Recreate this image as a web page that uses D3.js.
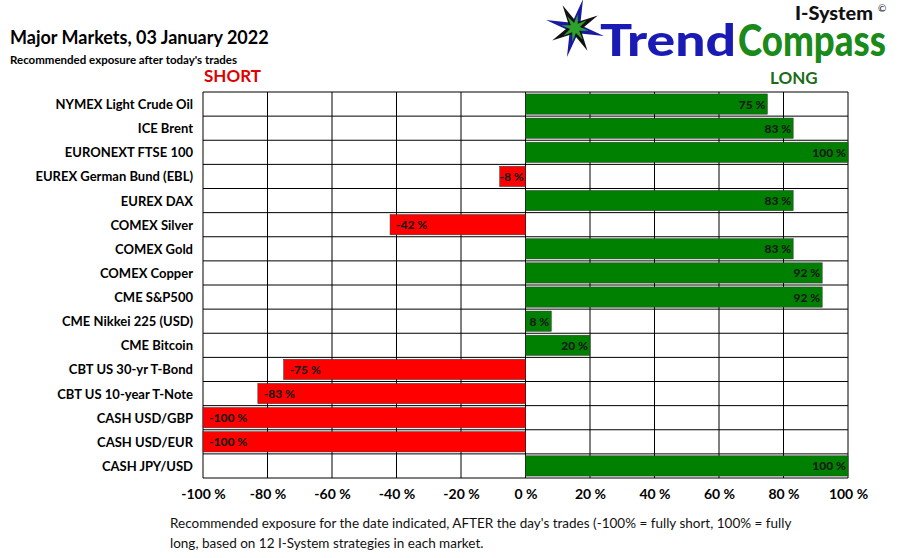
<!DOCTYPE html>
<html><head><meta charset="utf-8">
<script src="https://cdn.jsdelivr.net/npm/d3@7"></script>
<style>body{margin:0;background:#fff}text{font-family:Lato,"Open Sans",sans-serif}</style>
</head><body><svg id="c" width="900" height="558"></svg>
<script>
const categories=["NYMEX Light Crude Oil","ICE Brent","EURONEXT FTSE 100","EUREX German Bund (EBL)","EUREX DAX","COMEX Silver","COMEX Gold","COMEX Copper","CME S&P500","CME Nikkei 225 (USD)","CME Bitcoin","CBT US 30-yr T-Bond","CBT US 10-year T-Note","CASH USD/GBP","CASH USD/EUR","CASH JPY/USD"];
const values=[75,83,100,-8,83,-42,83,92,92,8,20,-75,-83,-100,-100,100];
const tickValues=[-100,-80,-60,-40,-20,0,20,40,60,80,100];
const svg=d3.select("#c");
const x=d3.scaleLinear().domain([-100,100]).range([203,848]);
const y=d3.scaleBand().domain(categories).range([92,478]).paddingInner(0.16).paddingOuter(0.08);
const g=svg.append("g");
tickValues.forEach(t=>g.append("line").attr("x1",x(t)).attr("x2",x(t)).attr("y1",92).attr("y2",478).attr("stroke","#000").attr("stroke-width",1));
d3.range(categories.length+1).forEach(i=>{const yy=92+i*(386/categories.length);g.append("line").attr("x1",203).attr("x2",848).attr("y1",yy).attr("y2",yy).attr("stroke","#000").attr("stroke-width",1);});
svg.selectAll("rect.b").data(values).join("rect").attr("class","b")
 .attr("x",d=>x(Math.min(0,d))).attr("width",d=>Math.abs(x(d)-x(0)))
 .attr("y",(d,i)=>y(categories[i])).attr("height",y.bandwidth())
 .attr("fill",d=>d<0?"#ff0000":"#008000").attr("stroke","#333").attr("stroke-width",0.5);
svg.selectAll("text.v").data(values).join("text").attr("class","v")
 .attr("x",d=>d<0?(d<-20?x(d)+6:x(d)+24):x(d)-2)
 .attr("text-anchor",d=>d<0&&d<-20?"start":"end")
 .attr("y",(d,i)=>y(categories[i])+y.bandwidth()/2+4.5)
 .attr("font-size",12).style("font-weight","900").attr("fill","#1a1a1a")
 .text(d=>d+" %");
svg.selectAll("text.c").data(categories).join("text").attr("class","c")
 .attr("x",193).attr("text-anchor","end").attr("y",d=>y(d)+y.bandwidth()/2+5)
 .attr("font-size",13).style("font-weight","bold").attr("fill","#000").text(d=>d);
const ax=svg.append("g").attr("transform","translate(0,478)").call(d3.axisBottom(x).tickValues(tickValues).tickSize(0).tickFormat(d=>d+" %"));
ax.select(".domain").remove();
ax.selectAll("text").attr("font-size",14).style("font-weight","bold").attr("fill","#000").attr("dy","1.3em").style("font-family","Lato,sans-serif");
svg.append("text").attr("x",10).attr("y",44).attr("font-size",18).style("font-weight","bold").text("Major Markets, 03 January 2022");
svg.append("text").attr("x",10).attr("y",64).attr("font-size",11.5).style("font-weight","bold").text("Recommended exposure after today's trades");
svg.append("text").attr("x",204).attr("y",82).attr("font-size",17).style("font-weight","bold").attr("fill","#e00000").text("SHORT");
svg.append("text").attr("x",770).attr("y",84).attr("font-size",17).style("font-weight","bold").attr("fill","#1a6b1a").text("LONG");
svg.append("text").attr("x",170).attr("y",528).attr("font-size",13.5).attr("fill","#111").text("Recommended  exposure for the date indicated, AFTER the day's trades (-100% = fully short, 100% = fully");
svg.append("text").attr("x",170).attr("y",548).attr("font-size",13.5).attr("fill","#111").text("long, based on 12 I-System strategies in each market.");
const L=svg.append("g");
const cx=575,cy=28;
const star=(n,r1,r2,rot,fill)=>{const pts=[];for(let i=0;i<2*n;i++){const r=i%2?r2:r1;const a=rot+i*Math.PI/n;pts.push([cx+r*Math.cos(a),cy+r*Math.sin(a)]);}L.append("polygon").attr("points",pts.map(p=>p.join(",")).join(" ")).attr("fill",fill);};
star(4,30,6,-1.3,"#1a1aa0");star(4,26,6,-0.5,"#111");star(8,14,5,0.2,"#2ea02e");
L.append("text").attr("x",600).attr("y",56).attr("font-size",44).style("font-weight","900").attr("fill","#1a1ab4").attr("textLength",136).attr("lengthAdjust","spacingAndGlyphs").text("Trend");
L.append("text").attr("x",738).attr("y",56).attr("font-size",44).style("font-weight","900").attr("fill","#1a8a1a").attr("textLength",148).attr("lengthAdjust","spacingAndGlyphs").text("Compass");
L.append("text").attr("x",795).attr("y",20).attr("font-size",19).style("font-weight","900").attr("fill","#111").attr("textLength",78).attr("lengthAdjust","spacingAndGlyphs").text("I-System");
L.append("text").attr("x",878).attr("y",12).attr("font-size",10).attr("fill","#111").text("©");
</script></body></html>
